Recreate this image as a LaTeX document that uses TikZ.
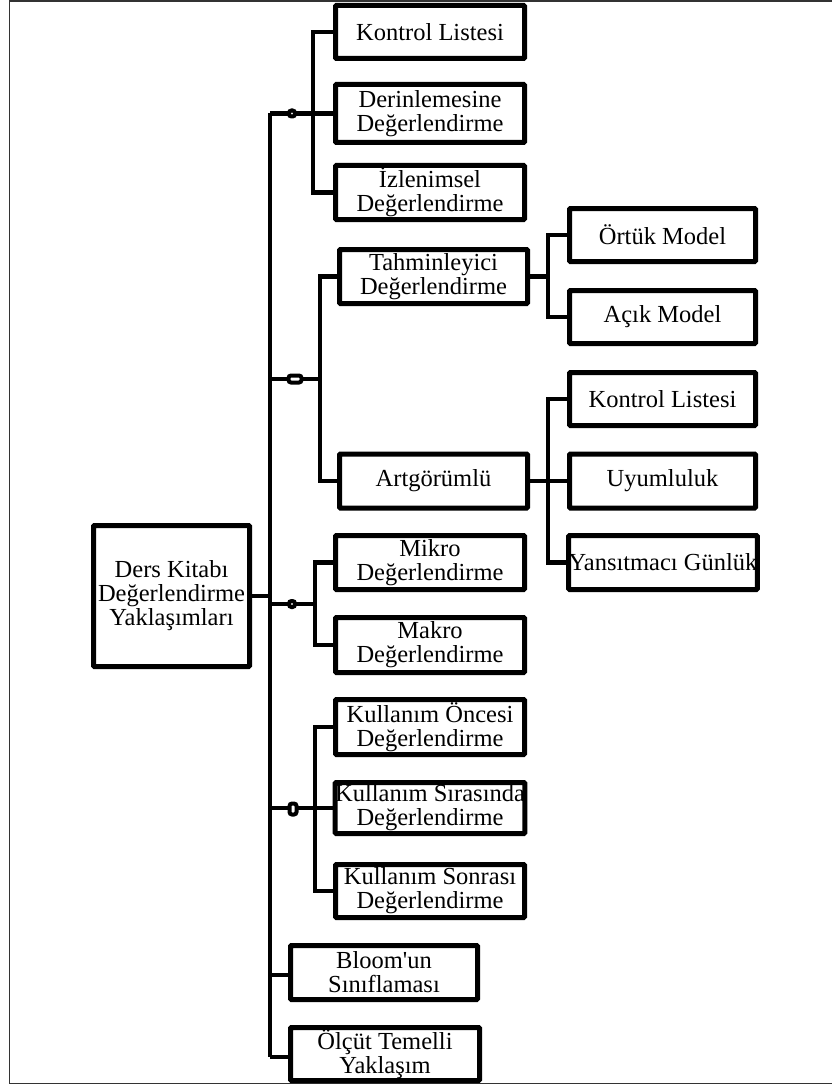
\documentclass[tikz,border=0pt]{standalone}
\usepackage{fontspec}
\setmainfont{Liberation Serif}
\usetikzlibrary{positioning}

\begin{document}
\begin{tikzpicture}[
    x=1pt, y=-1pt,
    box/.style={rectangle, draw=black, fill=white, line width=5pt, rounded corners=1pt,
                align=center, inner sep=0pt, minimum width=189pt, minimum height=54pt,
                font=\fontsize{24.5}{24}\selectfont},
    mainbox/.style={box, minimum width=156pt, minimum height=141pt},
    link/.style={line width=4.5pt},
    knot/.style={rectangle, draw=black, fill=white, line width=4pt, rounded corners=2.5pt,
                 inner sep=0pt, minimum width=6pt, minimum height=6pt}
]
    \useasboundingbox (0,0) rectangle (831,1086);
    \draw[line width=1.5pt, black!80] (845,1.2) -- (9.5,1.2) -- (9.5,1083.5) -- (845,1083.5);

    % Root
    \node[mainbox] (root) at (171.5,596) {Ders Kitabı\\Değerlendirme\\Yaklaşımları};

    % First level
    \node[box, minimum height=53pt] (kontrolA) at (430,32) {Kontrol Listesi};
    \node[box, minimum height=58pt] (derin) at (430,113.5) {Derinlemesine\\Değerlendirme};
    \node[box, inner ysep=1.5pt] (izlen) at (430,192.5) {İzlenimsel\\Değerlendirme};
    \node[box, minimum width=188pt] (tahmin) at (433.5,276.5) {Tahminleyici\\Değerlendirme};
    \node[box, minimum width=188pt] (artgor) at (433.5,481) {Artgörümlü};
    \node[box] (mikro) at (430,562.5) {Mikro\\Değerlendirme};
    \node[box, minimum height=55pt] (makro) at (430,645) {Makro\\Değerlendirme};
    \node[box, minimum height=55pt] (once) at (430,727) {Kullanım Öncesi\\Değerlendirme};
    \node[box, minimum height=51pt] (sira) at (430,808) {Kullanım Sırasında\\Değerlendirme};
    \node[box, minimum height=53pt] (sonra) at (430,891) {Kullanım Sonrası\\Değerlendirme};
    \node[box, minimum width=187pt] (bloom) at (384,972.5) {Bloom\textquotesingle un\\Sınıflaması};
    \node[box, minimum height=53pt] (olcut) at (385,1054) {Ölçüt Temelli\\Yaklaşım};

    % Second level
    \node[box, minimum width=186pt, minimum height=53pt] (ortuk) at (662.5,235) {Örtük Model};
    \node[box, minimum width=186pt, minimum height=53pt] (acik) at (662.5,317) {Açık Model};
    \node[box, minimum width=186pt, minimum height=53pt] (kontrolB) at (662.5,399) {Kontrol Listesi};
    \node[box, minimum width=186pt] (uyum) at (662.5,481) {Uyumluluk};
    \node[box, minimum width=187pt] (yansit) at (663,562.5) {Yansıtmacı Günlük};

    % Trunk points
    \coordinate (t1) at (270,113.5);
    \coordinate (t2) at (270,379);
    \coordinate (t3) at (270,604);
    \coordinate (t4) at (270,808);
    \coordinate (t5) at (270,975);
    \coordinate (t6) at (270,1057);
    \coordinate (s2) at (320,379);
    \coordinate (s3) at (315,604);

    % Connectors
    \draw[link] (t1) -- (t6);
    \draw[link] (root.east) -- (root.east -| t3);
    \draw[link] (t1) -- (derin.west);
    \draw[link] (kontrolA.west) -- ++(-20,0) |- (izlen.west);
    \draw[link] (t2) -- (s2);
    \draw[link] (tahmin.west) -- ++(-17,0) |- (artgor.west);
    \draw[link] (t3) -- (s3);
    \draw[link] (mikro.west) -- ++(-18,0) |- (makro.west);
    \draw[link] (t4) -- (sira.west);
    \draw[link] (once.west) -- ++(-18,0) |- (sonra.west);
    \draw[link] (t5) -- (t5 -| bloom.west);
    \draw[link] (t6) -- (t6 -| olcut.west);
    \draw[link] (tahmin.east) -- ++(18,0);
    \draw[link] (ortuk.west) -- ++(-19,0) |- (acik.west);
    \draw[link] (artgor.east) -- (uyum.west);
    \draw[link] (kontrolB.west) -- ++(-19,0) |- (yansit.west);

    % Junction knots
    \node[knot] (k1) at (292,113.5) {};
    \node[knot, minimum width=13pt, minimum height=7pt] (k2) at (295,379) {};
    \node[knot] (k3) at (292,604) {};
    \node[knot, minimum width=7pt, minimum height=11pt] (k4) at (293,809) {};
\end{tikzpicture}
\end{document}
